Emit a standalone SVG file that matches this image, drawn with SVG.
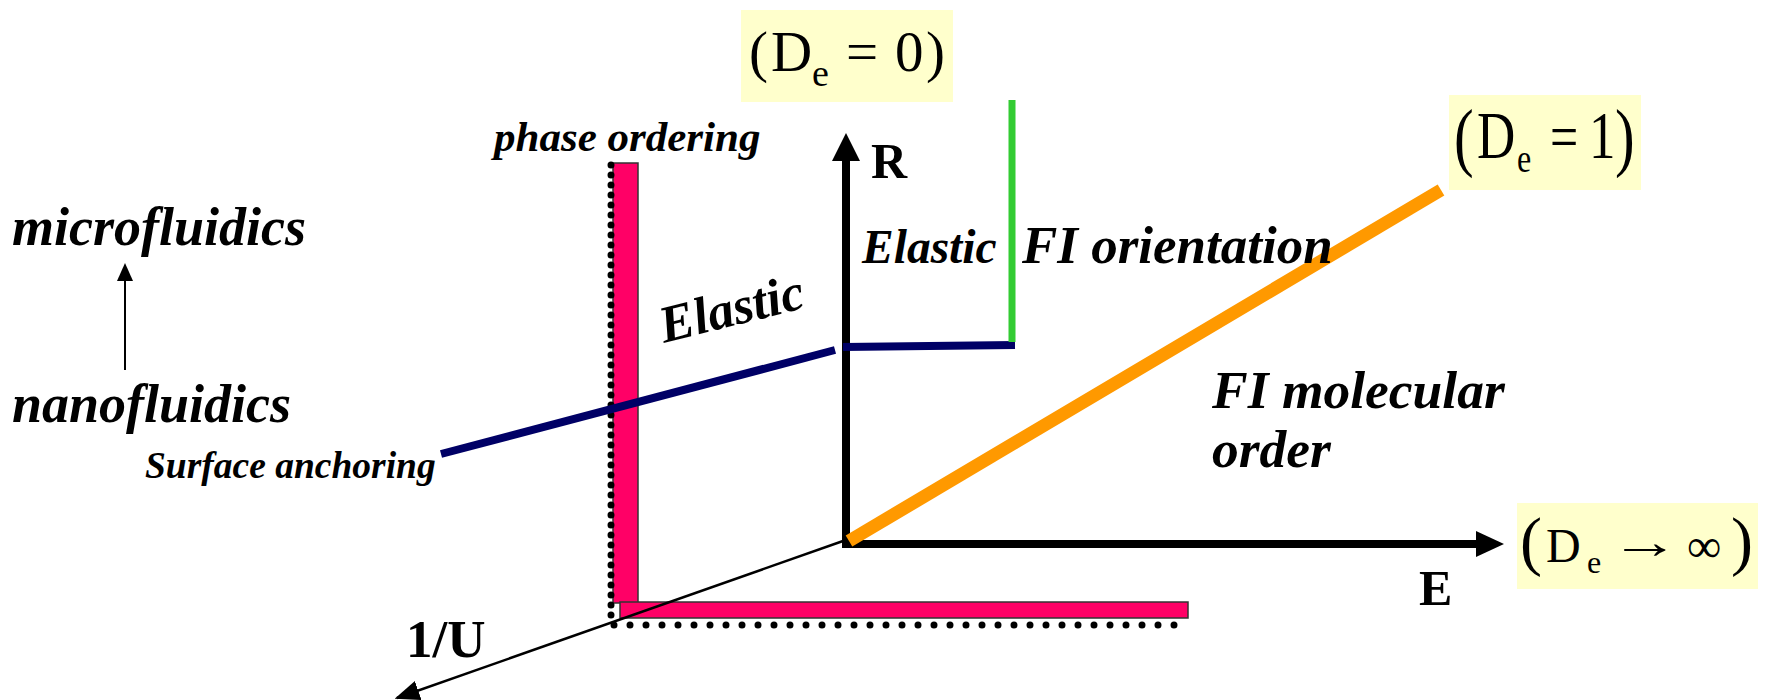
<svg xmlns="http://www.w3.org/2000/svg" width="1766" height="700" viewBox="0 0 1766 700">
<style>
text{font-family:'Liberation Serif','Times New Roman','DejaVu Serif',serif;fill:#000}
.bi{font-weight:bold;font-style:italic}
.b{font-weight:bold}
.box{fill:#ffffcc;stroke:none}
.bar{fill:#ff0066;stroke:#333;stroke-width:1.5}
.dots{fill:none;stroke:#000;stroke-width:7;stroke-linecap:round}
</style>
<defs>
<marker id="ah" markerWidth="10" markerHeight="8" refX="9" refY="4" orient="auto" markerUnits="strokeWidth">
<path d="M0,0 L10,4 L0,8 z" fill="#000"/>
</marker>
</defs>
<rect width="1766" height="700" fill="#fff"/>

<g id="condition-boxes">
<g id="box-de0">
<rect class="box" x="741" y="10" width="212" height="92"/>
<text font-size="57"><tspan x="749" y="71">(</tspan><tspan x="771" y="71">D</tspan><tspan x="812" y="86" font-size="38">e</tspan><tspan x="846" y="71">=</tspan><tspan x="895" y="71">0</tspan><tspan x="926" y="71">)</tspan></text>
</g>
<g id="box-de1">
<rect class="box" x="1449" y="95" width="192" height="95"/>
<text font-size="53" transform="translate(0,158) scale(1,1.28)"><tspan x="1454" y="3" font-size="59">(</tspan><tspan x="1477" y="0">D</tspan><tspan x="1517" y="11" font-size="32">e</tspan><tspan x="1550" y="0" font-size="50">=</tspan><tspan x="1589" y="0">1</tspan><tspan x="1615" y="3" font-size="59">)</tspan></text>
</g>
<g id="box-deinf">
<rect class="box" x="1517" y="503" width="241" height="86"/>
<text font-size="48"><tspan x="1520" y="563" font-size="66">(</tspan><tspan x="1546" y="562">D</tspan><tspan x="1587" y="573" font-size="32">e</tspan></text>
<text font-size="48" transform="translate(1610,558) scale(1.45,1)">→</text>
<text font-size="48"><tspan x="1687" y="562">∞</tspan><tspan x="1731" y="563" font-size="66">)</tspan></text>
</g>
</g>

<g id="walls">
<rect class="bar" x="613" y="163" width="25" height="440"/>
<rect class="bar" x="620" y="602" width="568" height="16"/>
<line class="dots" x1="611" y1="165" x2="611" y2="620" stroke-dasharray="0 10"/>
<line class="dots" x1="614" y1="625" x2="1188" y2="625" stroke-dasharray="0 16"/>
</g>

<g id="connectors">
<line x1="843" y1="541" x2="397" y2="698" stroke="#000" stroke-width="2.5" marker-end="url(#ah)"/>
<polyline points="846,158 846,544 1480,544" fill="none" stroke="#000" stroke-width="8" stroke-linejoin="miter"/>
<polygon points="846,133 832,161 860,161" fill="#000"/>
<polygon points="1504,544 1476,531 1476,557" fill="#000"/>
<line x1="441" y1="454" x2="835" y2="350" stroke="#000066" stroke-width="8"/>
<line x1="843" y1="347" x2="1015" y2="345" stroke="#000066" stroke-width="8"/>
<line x1="1012" y1="100" x2="1012" y2="342" stroke="#33cc33" stroke-width="7"/>
<line x1="849" y1="541" x2="1441" y2="190" stroke="#ff9900" stroke-width="13"/>
<line x1="125" y1="370" x2="125" y2="278" stroke="#000" stroke-width="2"/>
<polygon points="125,263 117,281 133,281" fill="#000"/>
</g>

<g id="labels">
<text class="b" font-size="50" x="871" y="178">R</text>
<text class="b" font-size="50" x="1419" y="605">E</text>
<text class="b" font-size="53" x="406" y="657">1/U</text>
<text class="bi" font-size="43" x="494" y="151">phase ordering</text>
<text class="bi" font-size="54" x="12" y="245">microfluidics</text>
<text class="bi" font-size="54" x="12" y="422">nanofluidics</text>
<text class="bi" font-size="37.5" x="145" y="478">Surface anchoring</text>
<text class="bi" font-size="52" transform="translate(664,343) rotate(-14)">Elastic</text>
<text class="bi" font-size="47.5" x="862" y="263">Elastic</text>
<text class="bi" font-size="53" x="1022" y="263">FI orientation</text>
<text class="bi" font-size="53.5" x="1212" y="408">FI molecular</text>
<text class="bi" font-size="53.5" x="1212" y="467">order</text>
</g>
</svg>
